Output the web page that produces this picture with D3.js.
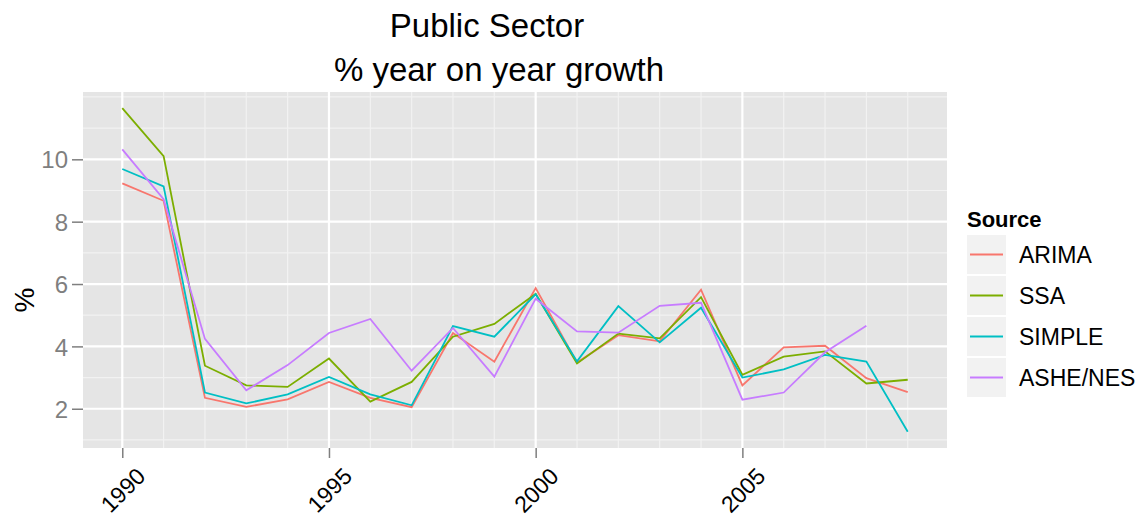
<!DOCTYPE html>
<html>
<head>
<meta charset="utf-8">
<script src="https://cdnjs.cloudflare.com/ajax/libs/d3/7.8.5/d3.min.js"></script>
<style>
  body { margin: 0; background: #fff; }
  text { font-family: "Liberation Sans", Arial, sans-serif; }
</style>
</head>
<body>
<div id="chart"></div>
<script>
// data
var years = [1990, 1991, 1992, 1993, 1994, 1995, 1996, 1997, 1998, 1999, 2000, 2001, 2002, 2003, 2004, 2005, 2006, 2007, 2008, 2009];
var sources = ["ARIMA", "SSA", "SIMPLE", "ASHE/NES"];
var arima = [9.23, 8.67, 2.35, 2.06, 2.30, 2.86, 2.35, 2.05, 4.43, 3.51, 5.87, 3.48, 4.36, 4.16, 5.82, 2.75, 3.97, 4.02, 2.98, 2.53];
var ssa = [11.64, 10.10, 3.38, 2.75, 2.70, 3.61, 2.23, 2.86, 4.31, 4.72, 5.69, 3.45, 4.41, 4.26, 5.58, 3.09, 3.67, 3.84, 2.81, 2.93];
var simple = [9.69, 9.13, 2.52, 2.17, 2.46, 3.02, 2.46, 2.11, 4.65, 4.31, 5.67, 3.52, 5.29, 4.13, 5.24, 3.00, 3.26, 3.73, 3.51, 1.26];
var ashe = [10.32, 8.72, 4.24, 2.59, 3.40, 4.43, 4.88, 3.22, 4.59, 3.03, 5.53, 4.48, 4.44, 5.30, 5.40, 2.29, 2.52, 3.81, 4.66, null];
var xTicks = [1990, 1995, 2000, 2005];
var yTicks = [2, 4, 6, 8, 10];
var colors = ["#F8766D", "#7CAE00", "#00BFC4", "#C77CFF"];

var W = 1147, H = 518;
//panel box
var panel = { left: 83, right: 947, top: 92, bottom: 448 };

var series = [arima, ssa, simple, ashe].map(function (vals, i) {
  return {
    name: sources[i],
    color: colors[i],
    values: years.map(function (yr, j) { return { year: yr, v: vals[j] }; }).filter(function (d) { return d.v != null; })
  };
});

//ggplot style 5% expansion
var xPad = (d3.max(years) - d3.min(years)) * 0.05;
var x = d3.scaleLinear().domain([d3.min(years) - xPad, d3.max(years) + xPad]).range([panel.left, panel.right]);
var allVals = [].concat(arima, ssa, simple, ashe).filter(function (v) { return v != null; });
var ext = d3.extent(allVals);
var yPad = (ext[1] - ext[0]) * 0.05;
var y = d3.scaleLinear().domain([ext[0] - yPad, ext[1] + yPad]).range([panel.bottom, panel.top]);

var svg = d3.select("#chart").append("svg").attr("width", W).attr("height", H);

//grey panel
svg.append("rect").attr("x", panel.left).attr("y", panel.top)
  .attr("width", panel.right - panel.left).attr("height", panel.bottom - panel.top)
  .attr("fill", "#e5e5e5");

//minor grid at every year and every whole percent
var grid = svg.append("g").attr("class", "grid");
grid.selectAll(".vminor").data(years.filter(function (d) { return xTicks.indexOf(d) < 0; })).enter().append("line")
  .attr("x1", function (d) { return x(d); }).attr("x2", function (d) { return x(d); })
  .attr("y1", panel.top).attr("y2", panel.bottom)
  .attr("stroke", "#f2f2f2").attr("stroke-width", 1.2);
var yMinor = d3.range(Math.ceil(y.domain()[0]), Math.floor(y.domain()[1]) + 1).filter(function (d) { return yTicks.indexOf(d) < 0; });
grid.selectAll(".hminor").data(yMinor).enter().append("line")
  .attr("x1", panel.left).attr("x2", panel.right)
  .attr("y1", function (d) { return y(d); }).attr("y2", function (d) { return y(d); })
  .attr("stroke", "#f2f2f2").attr("stroke-width", 1.2);
//major grid
grid.selectAll(".vmajor").data(xTicks).enter().append("line")
  .attr("x1", function (d) { return x(d); }).attr("x2", function (d) { return x(d); })
  .attr("y1", panel.top).attr("y2", panel.bottom)
  .attr("stroke", "#fff").attr("stroke-width", 2.2);
grid.selectAll(".hmajor").data(yTicks).enter().append("line")
  .attr("x1", panel.left).attr("x2", panel.right)
  .attr("y1", function (d) { return y(d); }).attr("y2", function (d) { return y(d); })
  .attr("stroke", "#fff").attr("stroke-width", 2.2);

//axes
var xAxis = d3.axisBottom(x).tickValues(xTicks).tickSize(10).tickFormat(d3.format("d"));
var yAxis = d3.axisLeft(y).tickValues(yTicks).tickSize(11).tickPadding(4);

var xg = svg.append("g").attr("transform", "translate(0," + panel.bottom + ")").call(xAxis);
xg.select(".domain").remove();
xg.selectAll(".tick line").attr("stroke", "#7f7f7f").attr("stroke-width", 1.5);
//rotated year labels, centred under each tick
xg.selectAll(".tick text").attr("fill", "#000").style("font-size", "23px")
  .attr("y", 0).attr("dy", "0.36em")
  .attr("text-anchor", "middle")
  .attr("transform", "translate(0,42) rotate(-45)");

var yg = svg.append("g").attr("transform", "translate(" + panel.left + ",0)").call(yAxis);
yg.select(".domain").remove();
yg.selectAll(".tick line").attr("stroke", "#7f7f7f").attr("stroke-width", 1.5);
yg.selectAll(".tick text").attr("fill", "#7f7f7f").style("font-size", "24px").attr("dy", "0.36em");

//y axis title
svg.append("text").attr("transform", "translate(34,300) rotate(-90)")
  .style("text-anchor", "middle").style("font-size", "28px").text("%");

//title, two lines
svg.append("text").attr("x", 487).attr("y", 37).style("text-anchor", "middle").style("font-size", "33px").text("Public Sector");
svg.append("text").attr("x", 499).attr("y", 81).style("text-anchor", "middle").style("font-size", "33px").text("% year on year growth");

//lines
var line = d3.line().x(function (d) { return x(d.year); }).y(function (d) { return y(d.v); });
svg.selectAll(".series").data(series).enter().append("path")
  .attr("class", "series")
  .attr("d", function (d) { return line(d.values); })
  .attr("fill", "none")
  .attr("stroke", function (d) { return d.color; })
  .attr("stroke-width", 1.8);

//legend
var lg = svg.append("g").attr("transform", "translate(967,0)");
lg.append("text").attr("x", 0).attr("y", 227).style("font-size", "22px").style("font-weight", "bold").text("Source");
var item = lg.selectAll(".legend").data(series).enter().append("g").attr("class", "legend")
  .attr("transform", function (d, i) { return "translate(0," + (235 + i * 41) + ")"; });
item.append("rect").attr("width", 39).attr("height", 39).attr("fill", "#f2f2f2");
item.append("line").attr("x1", 3).attr("x2", 36).attr("y1", 19.5).attr("y2", 19.5)
  .attr("stroke", function (d) { return d.color; }).attr("stroke-width", 1.8);
item.append("text").attr("x", 52).attr("y", 19.5).attr("dy", "0.36em").style("font-size", "23px")
  .text(function (d) { return d.name; });
</script>
</body>
</html>
